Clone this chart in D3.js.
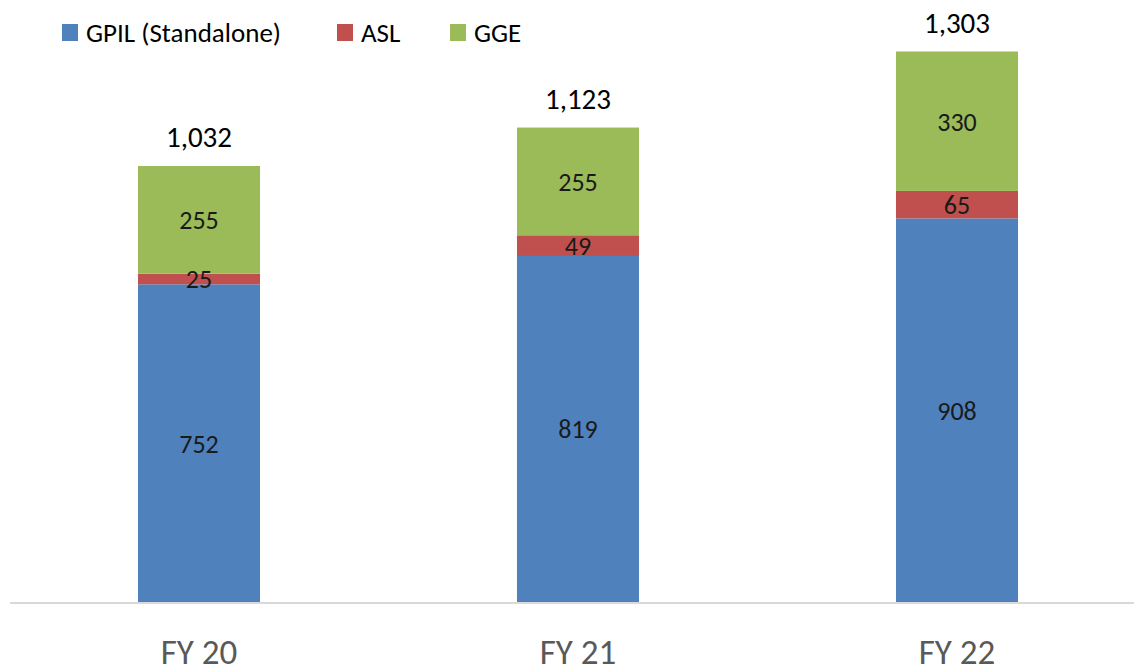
<!DOCTYPE html>
<html>
<head>
<meta charset="utf-8">
<script src="https://cdn.jsdelivr.net/npm/d3@7"></script>
<style>
  body { margin: 0; background: #fff; }
  svg { display: block; font-family: Carlito, "Liberation Sans", "Open Sans", sans-serif; }
</style>
</head>
<body>
<div id="chart"></div>
<script>
var annees = ["FY 20", "FY 21", "FY 22"];
var series = ["GPIL (Standalone)", "ASL", "GGE"];
var gpil = [752, 819, 908];
var asl = [25, 49, 65];
var gge = [255, 255, 330];
var totaux = ["1,032", "1,123", "1,303"];
var couleurs = ["#4f81bd", "#c0504d", "#9bbb59"];

var largeur = 1134, hauteur = 666;
var svg = d3.select("#chart").append("svg").attr("width", largeur).attr("height", hauteur);

var lignes = annees.map(function (a, i) {
  return { annee: a, gpil: gpil[i], asl: asl[i], gge: gge[i], total: totaux[i] };
});
var cles = ["gpil", "asl", "gge"];
var pile = d3.stack().keys(cles)(lignes);

var x = d3.scaleBand().domain(annees).range([9.5, 1146.5]).paddingInner(0.678).paddingOuter(0.339);
var y = d3.scaleLinear().domain([0, 1303]).range([602, 51.5]);

// ligne de base
svg.append("line").attr("x1", 10).attr("x2", largeur).attr("y1", 603).attr("y2", 603)
  .style("stroke", "#d9d9d9").style("stroke-width", 2);

var groupes = svg.selectAll("g.serie").data(pile).enter().append("g")
  .attr("fill", function (d, i) { return couleurs[i]; });

groupes.selectAll("rect").data(function (d) { return d; }).enter().append("rect")
  .attr("x", function (d) { return x(d.data.annee); })
  .attr("width", x.bandwidth())
  .attr("y", function (d) { return y(d[1]); })
  .attr("height", function (d) { return y(d[0]) - y(d[1]); });

// etiquettes des segments
pile.forEach(function (s) {
  svg.selectAll(null).data(s).enter().append("text")
    .attr("x", function (d) { return x(d.data.annee) + x.bandwidth() / 2; })
    .attr("y", function (d) { return (y(d[0]) + y(d[1])) / 2; })
    .attr("dy", "0.36em")
    .attr("text-anchor", "middle")
    .style("font-size", "26px")
    .style("fill", "#1a1a1a")
    .text(function (d) { return d.data[s.key]; });
});

// totaux
svg.selectAll("text.total").data(lignes).enter().append("text")
  .attr("class", "total")
  .attr("x", function (d) { return x(d.annee) + x.bandwidth() / 2; })
  .attr("y", function (d) { return y(d.gpil + d.asl + d.gge) - 19; })
  .attr("text-anchor", "middle")
  .style("font-size", "29px")
  .style("fill", "#000")
  .text(function (d) { return d.total; });

// axe des categories
var axe = svg.append("g").attr("transform", "translate(0,603)")
  .call(d3.axisBottom(x).tickSize(0).tickPadding(0));
axe.select(".domain").remove();
axe.selectAll("text")
  .attr("y", 61).attr("dy", 0)
  .style("font-size", "35px")
  .style("font-family", "Carlito, 'Liberation Sans', sans-serif")
  .style("fill", "#595959");

// legende
var posLegende = [62, 337, 450];
var legende = svg.selectAll("g.legende").data(series).enter().append("g")
  .attr("transform", function (d, i) { return "translate(" + posLegende[i] + ",24)"; });
legende.append("rect").attr("width", 16).attr("height", 17)
  .attr("fill", function (d, i) { return couleurs[i]; });
legende.append("text").attr("x", 24).attr("y", 18)
  .style("font-size", "27px").style("fill", "#000")
  .text(function (d) { return d; });
</script>
</body>
</html>
